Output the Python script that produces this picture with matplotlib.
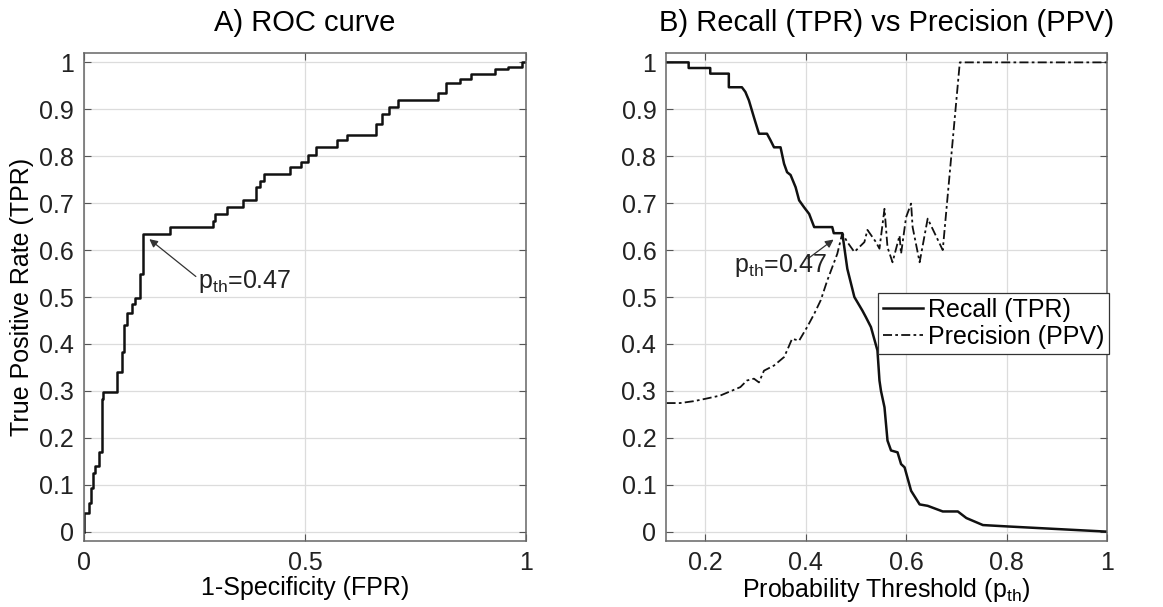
import matplotlib
matplotlib.use("Agg")
import matplotlib.pyplot as plt
import matplotlib.ticker as ticker

plt.rcParams['font.family'] = ['Liberation Sans', 'DejaVu Sans']
plt.rcParams['mathtext.fontset'] = 'custom'
plt.rcParams['mathtext.rm'] = 'Liberation Sans'
plt.rcParams['mathtext.it'] = 'Liberation Sans'

# ROC staircase (top-left corner of every horizontal run)
roc_fpr = [0, 0, 0.012, 0.016, 0.02, 0.026, 0.035, 0.04, 0.043, 0.075, 0.085, 0.09, 0.097,
           0.108, 0.115, 0.127, 0.133, 0.195, 0.293, 0.296, 0.323, 0.36, 0.39, 0.398, 0.407,
           0.466, 0.492, 0.507, 0.526, 0.572, 0.594, 0.66, 0.675, 0.69, 0.71, 0.8, 0.82, 0.85,
           0.875, 0.93, 0.96, 0.99, 1.0]
roc_tpr = [0, 0.04, 0.06, 0.094, 0.124, 0.14, 0.169, 0.283, 0.297, 0.34, 0.382, 0.44, 0.465,
           0.486, 0.497, 0.55, 0.635, 0.649, 0.663, 0.677, 0.691, 0.706, 0.734, 0.748, 0.763,
           0.777, 0.787, 0.802, 0.819, 0.834, 0.846, 0.868, 0.89, 0.905, 0.92, 0.935, 0.955, 0.965,
           0.975, 0.985, 0.99, 1.0, 1.0]

# recall vs threshold
rec_th = [0.123, 0.167, 0.167, 0.21, 0.21, 0.247, 0.247, 0.273, 0.28, 0.287, 0.297, 0.307,
          0.323, 0.33, 0.337, 0.35, 0.357, 0.363, 0.37, 0.38, 0.387, 0.397, 0.407, 0.417, 0.453,
          0.456, 0.473, 0.483, 0.497, 0.513, 0.52, 0.53, 0.543, 0.547, 0.55, 0.557, 0.563, 0.57,
          0.583, 0.59, 0.597, 0.61, 0.627, 0.643, 0.673, 0.703, 0.72, 0.753, 0.803, 1.0]
rec_val = [1.0, 1.0, 0.988, 0.988, 0.976, 0.976, 0.947, 0.947, 0.937, 0.919, 0.883, 0.848,
           0.848, 0.834, 0.819, 0.819, 0.784, 0.766, 0.76, 0.734, 0.706, 0.691, 0.677, 0.649, 0.649,
           0.636, 0.636, 0.56, 0.50, 0.471, 0.457, 0.436, 0.386, 0.322, 0.30, 0.265, 0.194, 0.173,
           0.169, 0.144, 0.137, 0.087, 0.058, 0.055, 0.043, 0.043, 0.029, 0.014, 0.011, 0.0]

# precision vs threshold
pre_th = [0.123, 0.15, 0.177, 0.2, 0.23, 0.25, 0.27, 0.283, 0.297, 0.307, 0.317, 0.337, 0.357,
          0.363, 0.373, 0.387, 0.403, 0.417, 0.43, 0.443, 0.463, 0.473, 0.483, 0.497, 0.517,
          0.523, 0.54, 0.547, 0.557, 0.563, 0.573, 0.587, 0.59, 0.6, 0.61, 0.613, 0.627, 0.643,
          0.673, 0.707, 1.0]
pre_val = [0.274, 0.274, 0.278, 0.283, 0.29, 0.299, 0.308, 0.322, 0.326, 0.318, 0.343, 0.354,
           0.372, 0.386, 0.411, 0.407, 0.436, 0.464, 0.493, 0.535, 0.592, 0.636, 0.617, 0.596,
           0.617, 0.643, 0.617, 0.603, 0.688, 0.606, 0.574, 0.631, 0.592, 0.67, 0.699, 0.649,
           0.574, 0.667, 0.6, 1.0, 1.0]

th_label = "$\\mathregular{p_{th}}$=0.47"

fig = plt.figure(figsize=(11.63, 6.07), dpi=100)
ax1 = fig.add_axes([0.0722, 0.1087, 0.3801, 0.804])
ax2 = fig.add_axes([0.5727, 0.1087, 0.3791, 0.804])

fmt = ticker.FuncFormatter(lambda v, p: "%g" % round(v, 2))
for ax in (ax1, ax2):
    ax.set_ylim(-0.02, 1.02)
    ax.set_yticks([i / 10 for i in range(11)])
    ax.yaxis.set_major_formatter(fmt)
    ax.xaxis.set_major_formatter(fmt)
    ax.grid(True, color='#dcdcdc', linewidth=0.9)
    ax.set_axisbelow(True)
    ax.tick_params(direction='in', length=5, width=0.8, colors='#555555',
                   labelcolor='#222222', labelsize=18, top=True, right=True, pad=7)
    for s in ax.spines.values():
        s.set_color('#666666')
        s.set_linewidth(1.1)

ax1.plot(roc_fpr, roc_tpr, color='#111111', lw=1.8, drawstyle='steps-post')
ax1.set_xlim(0, 1)
ax1.set_xticks([0, 0.5, 1])
ax1.annotate('', xy=(0.143, 0.627), xytext=(0.258, 0.54),
             arrowprops=dict(arrowstyle='-|>', color='#333333', lw=0.9, mutation_scale=12))
ax1.text(0.258, 0.52, th_label, fontsize=18, va='baseline', ha='left', color='#222222')
ax1.set_title("A) ROC curve", fontsize=21, pad=16)
ax1.set_xlabel("1-Specificity (FPR)", fontsize=18, labelpad=1)
ax1.set_ylabel("True Positive Rate (TPR)", fontsize=18, labelpad=4)

ax2.plot(rec_th, rec_val, color='#111111', lw=1.8, label="Recall (TPR)")
ax2.plot(pre_th, pre_val, color='#111111', lw=1.3, dashes=(5, 1.8, 1.5, 1.8),
         label="Precision (PPV)")
ax2.set_xlim(0.122, 1)
ax2.set_xticks([0.2, 0.4, 0.6, 0.8, 1])
ax2.annotate('', xy=(0.46, 0.626), xytext=(0.40, 0.578),
             arrowprops=dict(arrowstyle='-|>', color='#333333', lw=0.9, mutation_scale=12))
ax2.text(0.257, 0.553, th_label, fontsize=18, va='baseline', ha='left', color='#222222')
ax2.set_title("B) Recall (TPR) vs Precision (PPV)", fontsize=21, pad=16)
ax2.set_xlabel("Probability Threshold ($\\mathregular{p_{th}}$)", fontsize=18, labelpad=1)

leg = ax2.legend(loc='upper left', bbox_to_anchor=(0.48, 0.508), fontsize=18, frameon=True,
                 fancybox=False, edgecolor='#333333', framealpha=1, borderaxespad=0,
                 borderpad=0.2, labelspacing=0.1, handlelength=1.6, handletextpad=0.2)
leg.get_frame().set_linewidth(0.9)

fig.savefig("out.png", dpi=100)
